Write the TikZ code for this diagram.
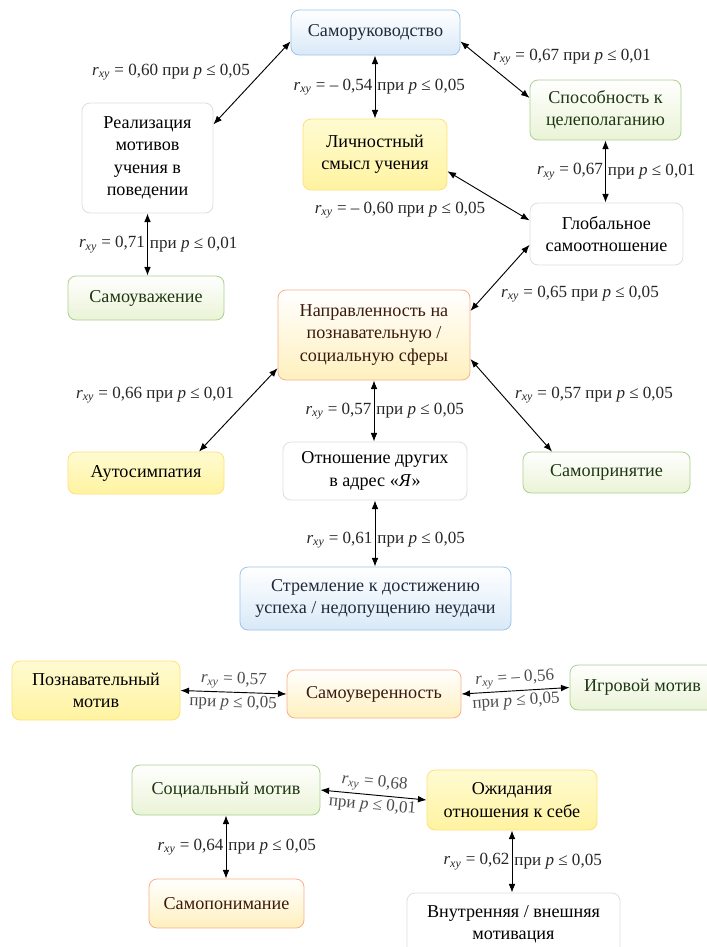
\documentclass[tikz,border=0pt]{standalone}
\usepackage{fontspec}
\setmainfont{Liberation Serif}
\usetikzlibrary{arrows.meta}
\definecolor{bBorder}{HTML}{9DC3E6}
\definecolor{bFill}{HTML}{D9E9F8}
\definecolor{gBorder}{HTML}{A9D18E}
\definecolor{gFill}{HTML}{EAF3D6}
\definecolor{yBorder}{HTML}{FFE07A}
\definecolor{yFill}{HTML}{FFF3A0}
\definecolor{yTop}{HTML}{FFFBD2}
\definecolor{oBorder}{HTML}{F6B08A}
\definecolor{oFill}{HTML}{FFF0BE}
\definecolor{wBorder}{HTML}{DEDEDE}
\definecolor{bText}{HTML}{1F2A3A}
\definecolor{gText}{HTML}{1E3612}
\definecolor{oText}{HTML}{3A1A0E}
\newcommand{\rxy}{\textit{r}\textsubscript{\textit{xy}}}
\newcommand{\pri}[1]{при \textit{p} ≤ #1}
\begin{document}
\begin{tikzpicture}[x=0.75pt,y=-0.75pt,
  sz/.style 2 args={minimum width=#1*0.75pt, minimum height=#2*0.75pt},
  box/.style={rounded corners=6pt, draw, line width=0.6pt, align=center, inner sep=2pt,
    font=\fontsize{13.6}{16.8}\selectfont},
  bluebox/.style={box, draw=bBorder, top color=white, bottom color=bFill, text=bText},
  greenbox/.style={box, draw=gBorder, top color=white, bottom color=gFill, text=gText},
  yellowbox/.style={box, draw=yBorder, top color=yTop, bottom color=yFill, text=black},
  orangebox/.style={box, draw=oBorder, top color=white, bottom color=oFill, text=oText},
  graybox/.style={box, draw=wBorder, fill=white, text=black},
  lbl/.style={font=\fontsize{12.8}{14}\selectfont, inner sep=1.5pt, text=black!85},
  hlbl/.style={lbl, inner sep=2.2pt, text=black!70},
  conn/.style={{Latex[length=6.5pt,width=5pt]}-{Latex[length=6.5pt,width=5pt]}, line width=0.7pt}
]
\useasboundingbox (0,0) rectangle (707,947);

% nodes
\node[bluebox, sz={169}{45}] (samoruk) at (375.5,32.5) {Саморуководство};
\node[graybox, sz={131}{110}] (real) at (147.5,158) {Реализация\\мотивов\\учения в\\поведении};
\node[yellowbox, sz={144}{71}] (lichn) at (375,154.5) {Личностный\\смысл учения};
\node[greenbox, sz={151}{60}] (spos) at (605.5,110) {Способность к\\целеполаганию};
\node[graybox, sz={153}{62}] (glob) at (606.5,234) {Глобальное\\самоотношение};
\node[greenbox, sz={156}{44}] (samouv) at (146,298) {Самоуважение};
\node[orangebox, sz={192}{90}] (napr) at (374,335) {Направленность на\\познавательную /\\социальную сферы};
\node[yellowbox, sz={156}{42}] (auto) at (146,473) {Аутосимпатия};
\node[graybox, sz={184}{58}] (otn) at (375,471) {Отношение других\\в адрес «\textit{Я}»};
\node[greenbox, sz={167}{41}] (samopr) at (606.5,472.5) {Самопринятие};
\node[bluebox, sz={271}{63}] (strem) at (375.5,598.5) {Стремление к достижению\\успеха / недопущению неудачи};
\node[yellowbox, sz={168}{59}] (pozn) at (96,690.5) {Познавательный\\мотив};
\node[orangebox, sz={174}{48}] (samouver) at (374,694) {Самоуверенность};
\node[greenbox, sz={145}{45}] (igr) at (642.5,687.5) {Игровой мотив};
\node[greenbox, sz={188}{50}] (soc) at (226,790) {Социальный мотив};
\node[yellowbox, sz={170}{60}] (ozhid) at (512,800) {Ожидания\\отношения к себе};
\node[orangebox, sz={155}{49}] (samopon) at (226.5,903.5) {Самопонимание};
\node[graybox, sz={213}{62}] (vnutr) at (513.5,924) {Внутренняя / внешняя\\мотивация};

% diagonal connectors
\draw[conn] (samoruk.186) -- (real.27);
\node[lbl] (l1) at (171,72) {\rxy{} = 0,60 \pri{0,05}};
\draw[conn] (samoruk.354) -- (spos.171);
\node[lbl] (l3) at (572,57) {\rxy{} = 0,67 \pri{0,01}};
\draw[conn] (lichn.347) -- (glob.170);
\node[lbl] (l5) at (400,210) {\rxy{} = – 0,60 \pri{0,05}};
\draw[conn] (glob.188) -- (napr.14);
\node[lbl] (l7) at (580,294) {\rxy{} = 0,65 \pri{0,05}};
\draw[conn] (napr.199) -- (auto.22);
\node[lbl] (l8) at (155,395) {\rxy{} = 0,66 \pri{0,01}};
\draw[conn] (napr.346) -- (samopr.159);
\node[lbl] (l10) at (594,395) {\rxy{} = 0,57 \pri{0,05}};

% vertical connectors
\draw[conn] (samoruk.south -| lichn.north) -- (lichn.north)
  node[lbl, left, midway] {\rxy{} = – 0,54} node[lbl, right, midway] {\pri{0,05}};
\draw[conn] (spos.south) -- (spos.south |- glob.north)
  node[lbl, left, midway] {\rxy{} = 0,67} node[lbl, right, midway] {\pri{0,01}};
\draw[conn] (real.south) -- (real.south |- samouv.north)
  node[lbl, left, midway] {\rxy{} = 0,71} node[lbl, right, midway] {\pri{0,01}};
\draw[conn] (napr.south) -- (napr.south |- otn.north)
  node[lbl, left, midway] {\rxy{} = 0,57} node[lbl, right, midway] {\pri{0,05}};
\draw[conn] (otn.south) -- (otn.south |- strem.north)
  node[lbl, left, pos=0.6] {\rxy{} = 0,61} node[lbl, right, pos=0.6] {\pri{0,05}};
\draw[conn] (soc.south) -- (soc.south |- samopon.north)
  node[lbl, left, midway] {\rxy{} = 0,64} node[lbl, right, midway] {\pri{0,05}};
\draw[conn] (ozhid.south) -- (ozhid.south |- vnutr.north)
  node[lbl, left, midway] {\rxy{} = 0,62} node[lbl, right, midway] {\pri{0,05}};

% horizontal connectors
\draw[conn] (pozn.east) -- (samouver.west)
  node[hlbl, above, sloped, midway] {\rxy{} = 0,57} node[hlbl, below, sloped, midway] {\pri{0,05}};
\draw[conn] (samouver.east) -- (igr.west)
  node[hlbl, above, sloped, midway] {\rxy{} = – 0,56} node[hlbl, below, sloped, midway] {\pri{0,05}};
\draw[conn] (soc.east) -- (ozhid.west)
  node[hlbl, above, sloped, midway] {\rxy{} = 0,68} node[hlbl, below, sloped, midway] {\pri{0,01}};
\end{tikzpicture}
\end{document}
